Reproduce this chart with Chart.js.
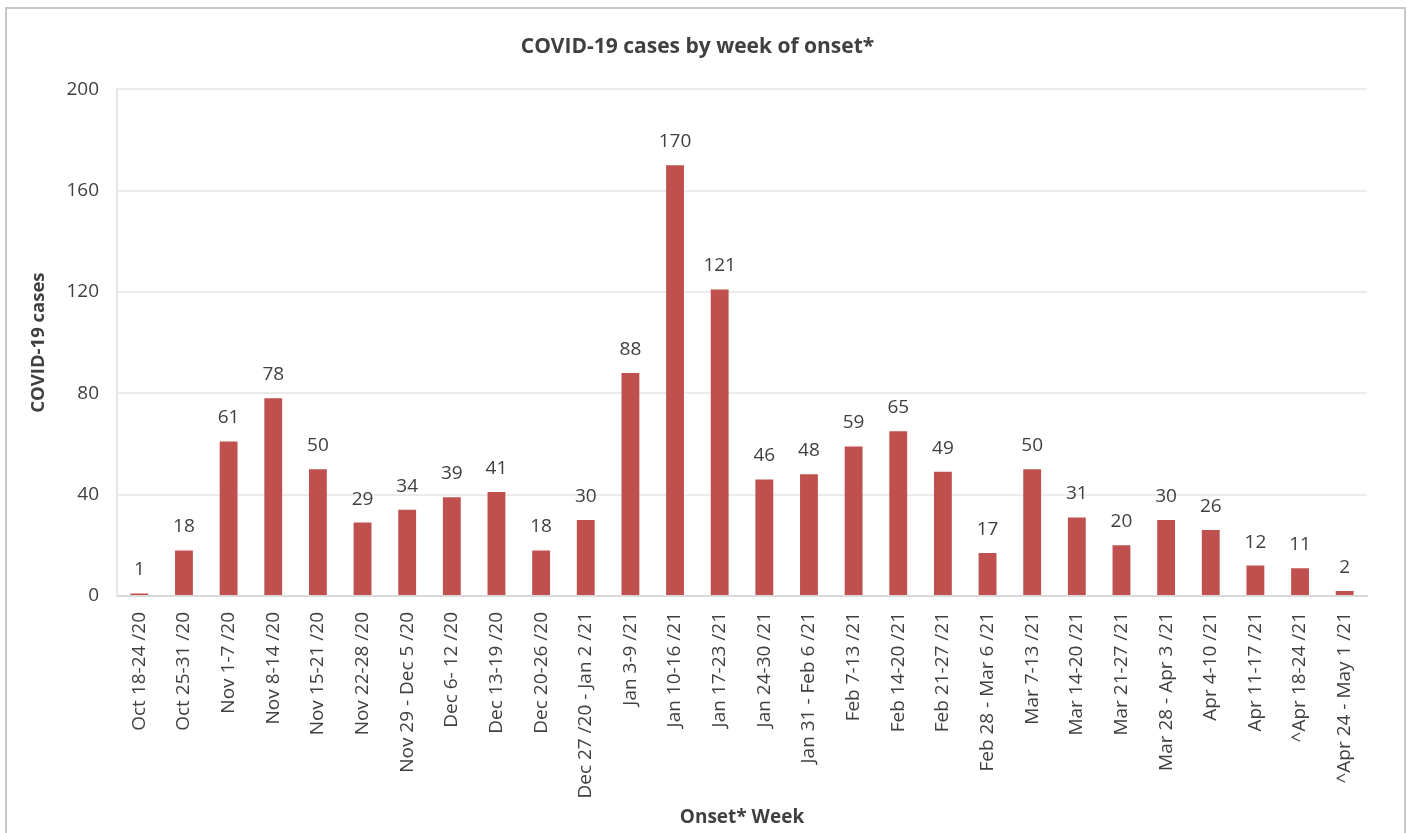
<!DOCTYPE html>
<html>
<head>
<meta charset="utf-8">
<script src="https://cdn.jsdelivr.net/npm/chart.js@4.4.0/dist/chart.umd.min.js"></script>
<style>
  body { margin: 0; background: #fff; }
  #frame { position: absolute; left: 5px; top: 7px; width: 1397px; height: 840px; border: 2px solid #c8c8c8; }
  #wrap { position: absolute; left: 0; top: 0; width: 1407px; height: 833px; }
</style>
</head>
<body>
<div id="frame"></div>
<div id="wrap"><canvas id="chart"></canvas></div>
<script>
// Week labels on the x axis
const weeks = [
  "Oct 18-24 /20", "Oct 25-31 /20", "Nov 1-7 /20", "Nov 8-14 /20", "Nov 15-21 /20",
  "Nov 22-28 /20", "Nov 29 - Dec 5 /20", "Dec 6- 12 /20", "Dec 13-19 /20", "Dec 20-26 /20",
  "Dec 27 /20 - Jan 2 /21", "Jan 3-9 /21", "Jan 10-16 /21", "Jan 17-23 /21", "Jan 24-30 /21",
  "Jan 31 - Feb 6 /21", "Feb 7-13 /21", "Feb 14-20 /21", "Feb 21-27 /21", "Feb 28 - Mar 6 /21",
  "Mar 7-13 /21", "Mar 14-20 /21", "Mar 21-27 /21", "Mar 28 - Apr 3 /21", "Apr 4-10 /21",
  "Apr 11-17 /21", "^Apr 18-24 /21", "^Apr 24 - May 1 /21"
];

// Cases per week
const cases = [1, 18, 61, 78, 50, 29, 34, 39, 41, 18, 30, 88, 170, 121, 46, 48, 59, 65, 49, 17, 50, 31, 20, 30, 26, 12, 11, 2];

// Y axis ticks
const yMax = 200;
const yStep = 40;

const font = "'Open Sans', sans-serif";

// Value labels above each bar
const barLabels = {
  id: "barLabels",
  afterDatasetsDraw(chart) {
    const ctx = chart.ctx;
    const meta = chart.getDatasetMeta(0);
    ctx.save();
    ctx.fillStyle = "#404040";
    ctx.font = "19px " + font;
    ctx.textAlign = "center";
    ctx.textBaseline = "alphabetic";
    meta.data.forEach(function (bar, i) {
      ctx.fillText(String(cases[i]), bar.x, bar.y - 18);
    });
    ctx.restore();
  },
};

const canvasRef = document.getElementById("chart");

new Chart(canvasRef, {
  type: "bar",
  data: {
    labels: weeks,
    datasets: [
      {
        label: "COVID-19 cases",
        data: cases,
        backgroundColor: "#c0504d",
        categoryPercentage: 1,
        barPercentage: 0.4,
      },
    ],
  },
  options: {
    responsive: true,
    maintainAspectRatio: false,
    animation: false,
    layout: { padding: { left: 28, right: 40, top: 20, bottom: 4 } },
    plugins: {
      legend: { display: false },
      tooltip: { enabled: false },
      title: {
        display: true,
        text: "COVID-19 cases by week of onset*",
        color: "#404040",
        font: { family: font, size: 21, weight: "bold" },
        padding: { top: 14, bottom: 30 },
      },
    },
    scales: {
      x: {
        grid: { display: false },
        border: { color: "#d9d9d9", width: 2 },
        ticks: {
          color: "#404040",
          font: { family: font, size: 19 },
          minRotation: 90,
          maxRotation: 90,
          autoSkip: false,
          padding: 8,
        },
        title: {
          display: true,
          text: "Onset* Week",
          color: "#404040",
          font: { family: font, size: 19, weight: "bold" },
          padding: { top: 0, bottom: 0 },
        },
        afterFit(scale) {
          scale.height = 233;
        },
      },
      y: {
        min: 0,
        max: yMax,
        ticks: {
          stepSize: yStep,
          color: "#404040",
          font: { family: font, size: 19 },
          padding: 18,
        },
        grid: { color: "#ebebeb", lineWidth: 2, drawTicks: false },
        border: { color: "#e6e6e6", width: 2 },
        title: {
          display: true,
          text: "COVID-19 cases",
          color: "#404040",
          font: { family: font, size: 18.5, weight: "bold" },
          padding: { top: 0, bottom: 0 },
        },
        afterFit(scale) {
          scale.width = 89;
        },
      },
    },
  },
  plugins: [barLabels],
});
</script>
</body>
</html>
